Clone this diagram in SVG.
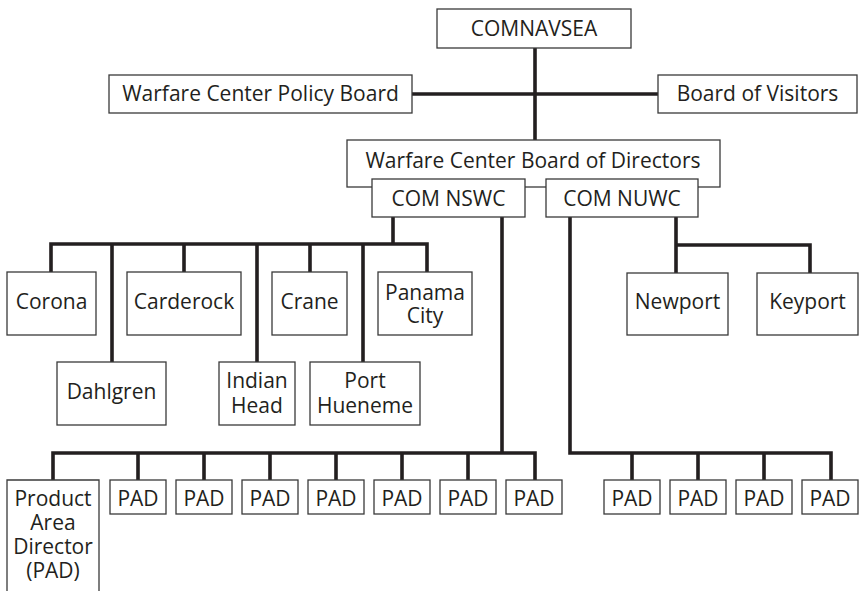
<svg xmlns="http://www.w3.org/2000/svg" width="859" height="591" viewBox="0 0 859 591">
<style>
.b{fill:#fff;stroke:#3a3a3a;stroke-width:1.3}
.t{font-family:"Open Sans","Noto Sans","Liberation Sans",sans-serif;font-size:21px;fill:#231f20;text-anchor:middle}
.c{fill:none;stroke:#231f20;stroke-width:3.6;stroke-linejoin:miter;stroke-linecap:butt}
</style>
<rect width="859" height="591" fill="#fff"/>
<g id="connectors">
<path class="c" d="M535 48V140M412 94H658"/>
<path class="c" d="M393 217V244M51 272V244H427V273M112 244V362M184 244V272M257 244V362M310 244V272M363 244V362"/>
<path class="c" d="M502 217V453M53 480V453H535V480M138 453V480M204 453V480M270 453V480M336 453V480M402 453V480M468 453V480"/>
<path class="c" d="M676 217V245M676 273V245H810V273"/>
<path class="c" d="M570 217V453H831V480M632 453V480M698 453V480M764 453V480"/>
</g>
<g id="comnavsea"><rect class="b" x="437" y="9" width="194" height="39"/><text class="t" x="534" y="36">COMNAVSEA</text></g>
<g id="policy-board"><rect class="b" x="109" y="75" width="303" height="38"/><text class="t" x="260.5" y="101">Warfare Center Policy Board</text></g>
<g id="board-of-visitors"><rect class="b" x="658" y="75" width="199" height="38"/><text class="t" x="757.5" y="101">Board of Visitors</text></g>
<g id="board-of-directors"><rect class="b" x="347" y="140" width="373" height="47"/><text class="t" x="533" y="168">Warfare Center Board of Directors</text></g>
<g id="com-nswc"><rect class="b" x="372" y="179" width="153" height="38"/><text class="t" x="448.5" y="206">COM NSWC</text></g>
<g id="com-nuwc"><rect class="b" x="546" y="179" width="152" height="38"/><text class="t" x="622" y="206">COM NUWC</text></g>
<g id="corona"><rect class="b" x="7" y="272" width="89" height="63"/><text class="t" x="51.5" y="309">Corona</text></g>
<g id="dahlgren"><rect class="b" x="57" y="362" width="109" height="63"/><text class="t" x="111.5" y="399">Dahlgren</text></g>
<g id="carderock"><rect class="b" x="127" y="272" width="114" height="63"/><text class="t" x="184" y="309">Carderock</text></g>
<g id="indian-head"><rect class="b" x="219" y="362" width="76" height="63"/><text class="t" y="388"><tspan x="257">Indian</tspan><tspan x="257" dy="25">Head</tspan></text></g>
<g id="crane"><rect class="b" x="272" y="272" width="75" height="63"/><text class="t" x="309.5" y="309">Crane</text></g>
<g id="port-hueneme"><rect class="b" x="310" y="362" width="110" height="63"/><text class="t" y="388"><tspan x="365">Port</tspan><tspan x="365" dy="25">Hueneme</tspan></text></g>
<g id="panama-city"><rect class="b" x="378" y="272" width="94" height="63"/><text class="t" y="300"><tspan x="425">Panama</tspan><tspan x="425" dy="23">City</tspan></text></g>
<g id="newport"><rect class="b" x="627" y="273" width="101" height="62"/><text class="t" x="677.5" y="309">Newport</text></g>
<g id="keyport"><rect class="b" x="757" y="273" width="101" height="62"/><text class="t" x="807.5" y="309">Keyport</text></g>
<g id="pad-director"><path class="b" d="M7 600V480H99V600"/><text class="t" y="506"><tspan x="53">Product</tspan><tspan x="53" dy="24">Area</tspan><tspan x="53" dy="24">Director</tspan><tspan x="53" dy="24">(PAD)</tspan></text></g>
<g id="pad-s1"><rect class="b" x="110" y="480" width="56" height="34"/><text class="t" x="138" y="506">PAD</text></g>
<g id="pad-s2"><rect class="b" x="176" y="480" width="56" height="34"/><text class="t" x="204" y="506">PAD</text></g>
<g id="pad-s3"><rect class="b" x="242" y="480" width="56" height="34"/><text class="t" x="270" y="506">PAD</text></g>
<g id="pad-s4"><rect class="b" x="308" y="480" width="56" height="34"/><text class="t" x="336" y="506">PAD</text></g>
<g id="pad-s5"><rect class="b" x="374" y="480" width="56" height="34"/><text class="t" x="402" y="506">PAD</text></g>
<g id="pad-s6"><rect class="b" x="440" y="480" width="56" height="34"/><text class="t" x="468" y="506">PAD</text></g>
<g id="pad-s7"><rect class="b" x="506" y="480" width="56" height="34"/><text class="t" x="534" y="506">PAD</text></g>
<g id="pad-u1"><rect class="b" x="604" y="480" width="56" height="34"/><text class="t" x="632" y="506">PAD</text></g>
<g id="pad-u2"><rect class="b" x="670" y="480" width="56" height="34"/><text class="t" x="698" y="506">PAD</text></g>
<g id="pad-u3"><rect class="b" x="736" y="480" width="56" height="34"/><text class="t" x="764" y="506">PAD</text></g>
<g id="pad-u4"><rect class="b" x="802" y="480" width="56" height="34"/><text class="t" x="830" y="506">PAD</text></g>
</svg>
